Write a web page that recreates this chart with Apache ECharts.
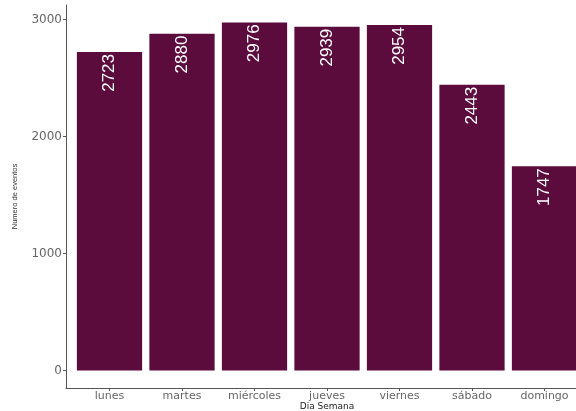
<!DOCTYPE html>
<html>
<head>
<meta charset="utf-8">
<script src="https://cdn.jsdelivr.net/npm/echarts@6/dist/echarts.min.js"></script>
<style>html,body{margin:0;padding:0;background:#fff}#c{width:576px;height:411px}</style>
</head>
<body>
<div id="c"></div>
<script>
const days = ['lunes', 'martes', 'miércoles', 'jueves', 'viernes', 'sábado', 'domingo'];
const eventos = [2723, 2880, 2976, 2939, 2954, 2443, 1747];
const yTicks = [0, 1000, 2000, 3000];
const xPositions = days.map((d, i) => i + 1);

const chart = echarts.init(document.getElementById('c'), null, {renderer: 'canvas'});
const axisColor = '#555';
chart.setOption({
  animation: false,
  backgroundColor: '#fff',
  grid: {left: 66, right: -12, top: 5, bottom: 23, containLabel: false, outerBoundsMode: 'none'},
  xAxis: {
    type: 'value',
    min: 0.4,
    max: 7.6,
    name: 'Dia Semana',
    nameLocation: 'middle',
    nameGap: 14,
    nameMoveOverlap: false,
    nameTextStyle: {color: '#222', fontSize: 9, fontFamily: 'DejaVu Sans'},
    axisLine: {show: true, onZero: false, lineStyle: {color: axisColor, width: 1}},
    axisTick: {show: true, length: 3, customValues: xPositions, lineStyle: {color: axisColor}},
    axisLabel: {
      customValues: xPositions,
      margin: 3,
      color: '#666',
      fontSize: 11,
      fontFamily: 'DejaVu Sans',
      formatter: v => days[Math.round(v) - 1]
    },
    splitLine: {show: false}
  },
  yAxis: {
    type: 'value',
    min: -148.8,
    max: 3124.8,
    name: 'Numero de eventos',
    nameLocation: 'middle',
    nameGap: 47,
    nameMoveOverlap: false,
    nameTextStyle: {color: '#333', fontSize: 7.5, fontFamily: 'Liberation Sans'},
    axisLine: {show: true, onZero: false, lineStyle: {color: axisColor, width: 1}},
    axisTick: {show: true, length: 3, customValues: yTicks, lineStyle: {color: axisColor}},
    axisLabel: {
      customValues: yTicks,
      margin: 4,
      color: '#666',
      fontSize: 12,
      fontFamily: 'DejaVu Sans',
      formatter: v => String(Math.round(v))
    },
    splitLine: {show: false}
  },
  series: [{
    type: 'bar',
    data: eventos.map((v, i) => [xPositions[i], v]),
    barWidth: '90%',
    itemStyle: {color: '#5c0b3d'},
    label: {
      show: true,
      position: 'insideTop',
      distance: 2,
      rotate: 90,
      align: 'right',
      verticalAlign: 'middle',
      color: '#fff',
      fontSize: 17,
      fontFamily: 'Liberation Sans, Arial',
      formatter: p => String(p.value[1])
    }
  }]
});
</script>
</body>
</html>
